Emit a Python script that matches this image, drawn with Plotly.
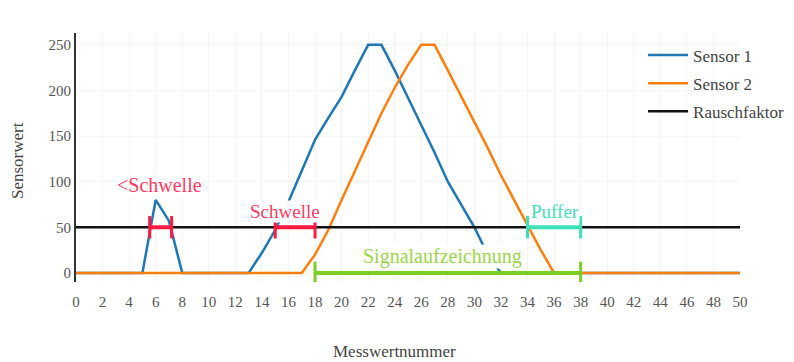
import plotly.graph_objects as go

x_vals = list(range(0, 51))
sensor1 = [0, 0, 0, 0, 0, 0, 80, 57, 0, 0,
           0, 0, 0, 0, 22, 47, 78, 112, 146, 170,
           193, 222, 250, 250, 222, 192, 162, 132, 100, 75,
           50, 20, 0, 0, 0, 0, 0, 0, 0, 0,
           0, 0, 0, 0, 0, 0, 0, 0, 0, 0, 0]
sensor2 = [0, 0, 0, 0, 0, 0, 0, 0, 0, 0,
           0, 0, 0, 0, 0, 0, 0, 0, 20, 47,
           80, 112, 145, 175, 203, 228, 250, 250, 222, 194,
           165, 137, 107, 80, 52, 25, 0, 0, 0, 0,
           0, 0, 0, 0, 0, 0, 0, 0, 0, 0, 0]
noise_level = 50

seg_lt_schwelle_x = [5.55, 7.2]
seg_schwelle_x = [15, 18]
seg_puffer_x = [34, 38]
seg_signal_x = [18, 38]

serif = "Liberation Serif, Times New Roman, serif"
red = "#ff1a40"
red_text = "#ff3a62"
cyan = "#3fe0b8"
green = "#7ccf22"
green_text = "#9ad64a"

fig = go.Figure()
fig.add_trace(go.Scatter(x=x_vals, y=sensor1, mode="lines", name="Sensor 1",
                         legendgroup="a", line=dict(color="#1f77b4", width=2.5)))
fig.add_trace(go.Scatter(x=x_vals, y=sensor2, mode="lines", name="Sensor 2",
                         legendgroup="b", line=dict(color="#ff7f0e", width=2.5)))
fig.add_trace(go.Scatter(x=[x_vals[0], x_vals[-1]], y=[noise_level, noise_level],
                         mode="lines", name="Rauschfaktor", legendgroup="c",
                         line=dict(color="#111111", width=2.5)))

def seg(xs, yv, color):
    fig.add_trace(go.Scatter(
        x=xs, y=[yv, yv], mode="lines+markers", showlegend=False,
        line=dict(color=color, width=4),
        marker=dict(symbol="line-ns", size=16, line=dict(color=color, width=3)),
        hoverinfo="skip"))

seg(seg_lt_schwelle_x, noise_level, red)
seg(seg_schwelle_x, noise_level, red)
seg(seg_puffer_x, noise_level, cyan)
seg(seg_signal_x, 0, green)

annots = [
    ("&lt;Schwelle", 6.3, 96, red_text, 20),
    ("Schwelle", 15.7, 67, red_text, 19),
    ("Puffer", 36.1, 67, cyan, 19),
    ("Signalaufzeichnung", 27.6, 17.5, green_text, 20),
]
for txt, ax, ay, col, fs in annots:
    fig.add_annotation(x=ax, y=ay, text=txt, showarrow=False,
                       font=dict(family=serif, size=fs, color=col),
                       bgcolor="white", borderpad=0)

# axis titles
fig.add_annotation(xref="paper", yref="paper", x=0.48, y=-0.281,
                   xanchor="center", yanchor="middle",
                   text="Messwertnummer", showarrow=False,
                   font=dict(family=serif, size=17, color="#444444"))
fig.add_annotation(xref="paper", yref="paper", x=-0.0873, y=0.486,
                   xanchor="center", yanchor="middle", textangle=-90,
                   text="Sensorwert", showarrow=False,
                   font=dict(family=serif, size=17, color="#444444"))

fig.update_layout(
    width=794, height=362,
    margin=dict(l=68, r=62, t=25, b=88, autoexpand=False),
    paper_bgcolor="white", plot_bgcolor="white",
    font=dict(family=serif, color="#444444"),
    legend=dict(x=0.854, y=0.982, xanchor="left", yanchor="top",
                font=dict(family=serif, size=17, color="#444444"),
                bgcolor="rgba(0,0,0,0)", tracegroupgap=3, itemwidth=40),
    xaxis=dict(range=[0, 50], dtick=2, tick0=0, showgrid=True, automargin=False,
               gridcolor="#f5f5f5", zeroline=False, showline=False,
               ticks="outside", ticklen=6, tickcolor="rgba(0,0,0,0)",
               tickfont=dict(family=serif, size=15, color="#555555")),
    yaxis=dict(range=[-10, 263], tickvals=[0, 50, 100, 150, 200, 250],
               showgrid=True, gridcolor="#f5f5f5", zeroline=False, automargin=False,
               showline=True, linecolor="#333333", linewidth=2,
               tickfont=dict(family=serif, size=15, color="#555555")),
)

fig.write_html("out.html")
